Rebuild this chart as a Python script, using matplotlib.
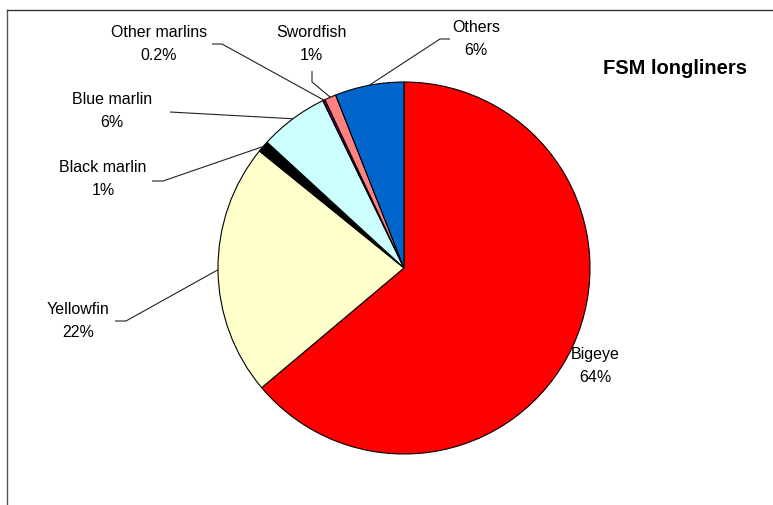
import numpy as np
import matplotlib
matplotlib.use("Agg")
import matplotlib.pyplot as plt
from matplotlib.lines import Line2D

# ---- data ----
species = ["Bigeye", "Yellowfin", "Black marlin", "Blue marlin",
           "Other marlins", "Swordfish", "Others"]
shares = [64, 22, 1, 6, 0.2, 1, 6]
pct_labels = ["64%", "22%", "1%", "6%", "0.2%", "1%", "6%"]
colors = ["#FF0000", "#FFFFCC", "#000000", "#CCFFFF",
          "#660066", "#FF8080", "#0066CC"]
TITLE = "FSM longliners"

W, H = 773, 506
CX, CY, R = 404, 269, 186

# label centre (pixel coords, y down) and leader stub points next to the text
label_pos = {
    "Bigeye": ((595, 366), []),
    "Yellowfin": ((78, 321), [(115, 322), (126, 322)]),
    "Black marlin": ((103, 179), [(152, 182), (163, 182)]),
    "Blue marlin": ((112, 111), [(170, 113)]),
    "Other marlins": ((159, 44), [(212, 45), (222, 45)]),
    "Swordfish": ((311, 44), [(312, 72), (312, 83)]),
    "Others": ((476, 39), [(450, 40), (440, 40)]),
}


def main() -> None:
    plt.rcParams["font.family"] = ["Liberation Sans", "DejaVu Sans"]
    fig = plt.figure(figsize=(W / 100, H / 100), dpi=100)
    ax = fig.add_axes([0, 0, 1, 1])

    wedges, _ = ax.pie(
        shares,
        colors=colors,
        startangle=90,
        counterclock=False,
        center=(CX, H - CY),
        radius=R,
        wedgeprops=dict(edgecolor="black", linewidth=0.8),
        frame=True,
    )
    ax.set_xlim(0, W)
    ax.set_ylim(0, H)
    ax.set_aspect("equal")
    ax.axis("off")

    for name, pct, w in zip(species, pct_labels, wedges):
        (tx, ty), stub = label_pos[name]
        ax.text(tx, H - ty, f"{name}\n{pct}", ha="center", va="center",
                fontsize=11.5, linespacing=1.6, color="black")
        if not stub:
            continue
        mid = np.deg2rad((w.theta1 + w.theta2) / 2)
        anchor = (CX + R * np.cos(mid), H - CY + R * np.sin(mid))
        xs = [p[0] for p in stub] + [anchor[0]]
        ys = [H - p[1] for p in stub] + [anchor[1]]
        ax.plot(xs, ys, color="#222222", lw=0.8, solid_capstyle="butt")

    ax.text(747, H - 68, TITLE, ha="right", va="center",
            fontsize=14.5, fontweight="bold")

    # chart area border (left and top visible)
    fig.add_artist(Line2D([7 / W, 7 / W], [0, 1 - 11 / H],
                          color="#555555", lw=1))
    fig.add_artist(Line2D([7 / W, 1], [1 - 11 / H, 1 - 11 / H],
                          color="#333333", lw=1))

    fig.savefig("out.png", dpi=100)
    plt.close(fig)


if __name__ == "__main__":
    main()
